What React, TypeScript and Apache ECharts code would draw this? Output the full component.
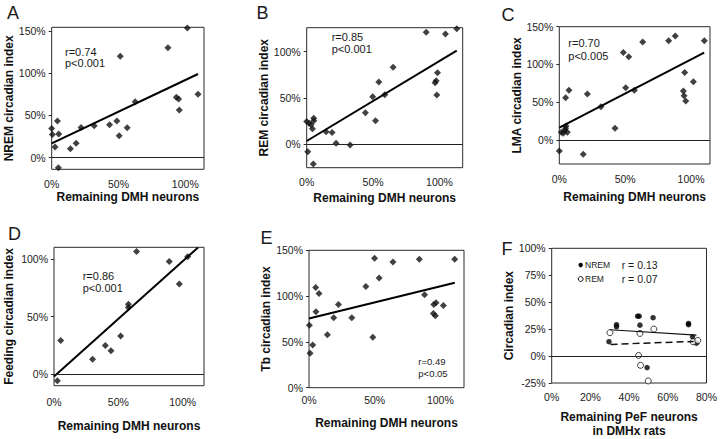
import React, { useEffect, useRef } from "react";
import * as echarts from "echarts";

// ---------- Data ----------
// Panel A: NREM circadian index vs remaining DMH neurons (%)
const nremX = [0, 0.5, 2.5, 4.3, 5.3, 5, 14, 18.3, 22, 31.8, 43.3, 48.8, 50.5, 51.3, 56.5, 62.5, 87, 93.3, 95, 95.5, 101.5, 109.5];
const nremY = [34.7, 27.6, 12.6, 43.4, 28, -11.8, 10.7, 17, 35.9, 37.9, 39.1, 43.4, 26, 120, 35.5, 66.3, 130.3, 71.5, 69.5, 56.5, 153.6, 75];
const nremFit = [[0, 17], [109.5, 99.1]];

// Panel B: REM circadian index
const remX = [0, 1.8, 3.3, 4.3, 5.3, 5.3, 0.8, 5, 14.6, 19.1, 22.1, 32.7, 44.2, 49.7, 51.8, 54.3, 58.8, 65.1, 90, 96.7, 97.5, 98, 98.5, 104.5, 113];
const remY = [24.5, 22.7, 21.2, 16.9, 28.1, 25.5, -7.9, -21.2, 13.7, 12.9, 1.1, -0.7, 34.2, 51.4, 25.5, 67.3, 53.6, 83.1, 120.9, 66.5, 68.7, 53.2, 77.3, 119, 124.8];
const remFit = [[0, 3.6], [113, 101]];

// Panel C: LMA circadian index
const lmaX = [0, 1.5, 3.0, 4.1, 4.8, 5.1, 6.1, 4.8, 7.3, 18.2, 21.3, 31.6, 42.3, 48.6, 50.4, 52.7, 57, 63.3, 83, 88, 95.2, 94.2, 94.7, 96, 101.8, 110.1];
const lmaY = [-14.6, 10.1, 8.8, 12.4, 15.4, 18.5, 10.1, 56, 65.7, -19, 60.9, 44.1, 15.5, 116, 69.3, 110.3, 65.7, 129.7, 131.5, 137.6, 89.5, 64.8, 58.7, 51.6, 77.2, 131.5];
const lmaFit = [[0, 16.3], [110, 115.6]];

// Panel D: Feeding circadian index
const feedX = [2.6, 5.2, 30, 39.9, 44.3, 51.8, 57.8, 57.8, 64.2, 89.6, 97.4, 103.9];
const feedY = [-5.5, 29.2, 13, 24.9, 20.5, 33.2, 57.8, 60.7, 106.4, 97.7, 78.3, 102];
const feedFit = [[0, -2], [112, 110]];

// Panel E: Tb circadian index
const tbX = [0.3, 0.8, 2.8, 5.1, 5.3, 7.6, 14, 18.8, 22.4, 32.6, 43.3, 48.6, 49.9, 53.4, 63.9, 84, 88, 94.7, 95, 96.2, 96.7, 102.3, 110.9];
const tbY = [68.2, 37.6, 46.7, 109.5, 82.8, 102.9, 57.7, 76.3, 90.9, 76.3, 110.6, 55.1, 141.2, 119.7, 137.2, 140.1, 101.5, 81.1, 90.9, 78.5, 92.7, 89.8, 140.1];
const tbFit = [[0, 75.5], [111, 114.6]];

// Panel F: circadian index vs remaining PeF neurons in DMHx rats
const pefNremX = [29.6, 33.5, 33.5, 44.4, 45.2, 45.6, 52.4, 49.3, 70.7, 70.7, 72.8, 74.8];
const pefNremY = [13.3, 29.1, 27.2, 37.0, 37.0, 28.7, 35.6, -10.7, 30.3, 29.1, 18.0, 12.0];
const pefRemX = [30.1, 45.6, 52.8, 44.9, 45.9, 49.9, 73.1, 75.5];
const pefRemY = [21.7, 21.0, 25.0, 0.6, -8.6, -23.1, 13.3, 14.5];
const pefNremFit = [[30.1, 24.4], [74.8, 19.4]];
const pefRemFit = [[30.4, 10.8], [73.4, 13.6]];

// Tick labels
const dmhTicks = [0, 50, 100];
const ticksA = [0, 50, 100, 150];
const ticksB = [0, 50, 100];
const ticksC = [0, 50, 100, 150];
const ticksD = [0, 50, 100];
const ticksE = [0, 50, 100, 150];
const pefXTicks = [0, 20, 40, 60, 80];
const pefYTicks = [-25, 0, 25, 50, 75, 100];

const FONT = "Liberation Sans, Arial, Helvetica, sans-serif";

const zip = (xs: number[], ys: number[]) => xs.map((x, i) => [x, ys[i]]);

type Panel = {
  grid: { left: number; top: number; width: number; height: number };
  xMin: number; xMax: number; yMin: number; yMax: number;
  xTicks: number[]; yTicks: number[];
  yName: string; yGap: number;
  xName: string; xGap: number; xLabelMargin: number;
};

export default function App() {
  const ref = useRef<HTMLDivElement>(null);

  useEffect(() => {
    if (!ref.current) return;
    const chart = echarts.init(ref.current, undefined, { renderer: "svg" });

    const panels: Panel[] = [
      { grid: { left: 51.7, top: 27.3, width: 152.3, height: 142 }, xMin: 0, xMax: 114, yMin: -13.7, yMax: 154.4, xTicks: dmhTicks, yTicks: ticksA, yName: "NREM circadian index", yGap: 37, xName: "Remaining DMH neurons", xGap: 21, xLabelMargin: 9 },
      { grid: { left: 306.7, top: 27.7, width: 156, height: 140 }, xMin: 0, xMax: 117.5, yMin: -25.2, yMax: 125.8, xTicks: dmhTicks, yTicks: ticksB, yName: "REM circadian index", yGap: 23.5, xName: "Remaining DMH neurons", xGap: 23, xLabelMargin: 9 },
      { grid: { left: 559.3, top: 26.7, width: 150.7, height: 137.3 }, xMin: 0, xMax: 114.4, yMin: -31.8, yMax: 150, xTicks: dmhTicks, yTicks: ticksC, yName: "LMA circadian index", yGap: 35, xName: "Remaining DMH neurons", xGap: 26, xLabelMargin: 9 },
      { grid: { left: 54, top: 247.3, width: 150, height: 138.4 }, xMin: 0, xMax: 116.6, yMin: -9.9, yMax: 110.1, xTicks: dmhTicks, yTicks: ticksD, yName: "Feeding circadian index", yGap: 39.5, xName: "Remaining DMH neurons", xGap: 33, xLabelMargin: 11 },
      { grid: { left: 309, top: 250.3, width: 155, height: 137.4 }, xMin: 0, xMax: 118, yMin: 0, yMax: 150, xTicks: dmhTicks, yTicks: ticksE, yName: "Tb circadian index", yGap: 31.5, xName: "Remaining DMH neurons", xGap: 28, xLabelMargin: 7 },
      { grid: { left: 551.7, top: 248.3, width: 155, height: 135 }, xMin: 0, xMax: 80, yMin: -25, yMax: 100, xTicks: pefXTicks, yTicks: pefYTicks, yName: "Circadian index", yGap: 32, xName: "Remaining PeF neurons\nin DMHx rats", xGap: 27, xLabelMargin: 8 },
    ];

    const grids = panels.map((p) => ({
      ...p.grid,
      show: true,
      borderColor: "#2a2a2a",
      borderWidth: 1,
      backgroundColor: "transparent",
      containLabel: false,
    }));

    const xAxes = panels.map((p, i) => ({
      gridIndex: i,
      type: "value",
      min: p.xMin,
      max: p.xMax,
      axisLine: { show: false },
      splitLine: { show: false },
      axisTick: { show: false },
      axisLabel: {
        customValues: p.xTicks,
        formatter: (v: number) => `${v}%`,
        margin: p.xLabelMargin,
        fontSize: 10.5,
        color: "#222",
        fontFamily: FONT,
      },
      name: p.xName,
      nameLocation: "middle",
      nameGap: p.xGap,
      nameTextStyle: { fontWeight: "bold", fontSize: 12, color: "#111", fontFamily: FONT, lineHeight: 14 },
    }));

    const yAxes = panels.map((p, i) => ({
      gridIndex: i,
      type: "value",
      min: p.yMin,
      max: p.yMax,
      axisLine: { show: false },
      splitLine: { show: false },
      axisTick: { show: true, inside: false, length: 3, customValues: p.yTicks, lineStyle: { color: "#2a2a2a" } },
      axisLabel: {
        customValues: p.yTicks,
        formatter: (v: number) => `${v}%`,
        margin: 6,
        fontSize: 10.5,
        color: "#222",
        fontFamily: FONT,
      },
      name: p.yName,
      nameLocation: "middle",
      nameGap: p.yGap,
      nameRotate: 90,
      nameTextStyle: { fontWeight: "bold", fontSize: 12, color: "#111", fontFamily: FONT },
    }));

    const zeroLine = {
      silent: true,
      symbol: ["none", "none"],
      label: { show: false },
      lineStyle: { color: "#222", width: 1, type: "solid" },
      data: [{ yAxis: 0 }],
    };

    const diamondSeries = (i: number, xs: number[], ys: number[], fit: number[][], withZero: boolean) => [
      {
        type: "scatter",
        xAxisIndex: i,
        yAxisIndex: i,
        data: zip(xs, ys),
        symbol: "diamond",
        symbolSize: 7,
        clip: false,
        itemStyle: { color: "#111" },
        ...(withZero ? { markLine: zeroLine } : {}),
      },
      {
        type: "line",
        xAxisIndex: i,
        yAxisIndex: i,
        data: fit,
        showSymbol: false,
        symbol: "none",
        clip: true,
        lineStyle: { color: "#000", width: 2 },
      },
    ];

    const series: any[] = [
      ...diamondSeries(0, nremX, nremY, nremFit, true),
      ...diamondSeries(1, remX, remY, remFit, true),
      ...diamondSeries(2, lmaX, lmaY, lmaFit, true),
      ...diamondSeries(3, feedX, feedY, feedFit, true),
      ...diamondSeries(4, tbX, tbY, tbFit, false),
      {
        type: "scatter",
        xAxisIndex: 5,
        yAxisIndex: 5,
        data: zip(pefNremX, pefNremY),
        symbol: "circle",
        symbolSize: 5.5,
        clip: false,
        itemStyle: { color: "#000" },
        markLine: zeroLine,
      },
      {
        type: "scatter",
        xAxisIndex: 5,
        yAxisIndex: 5,
        data: zip(pefRemX, pefRemY),
        symbol: "circle",
        symbolSize: 6,
        clip: false,
        itemStyle: { color: "#fff", borderColor: "#111", borderWidth: 1 },
      },
      {
        type: "line",
        xAxisIndex: 5,
        yAxisIndex: 5,
        data: pefNremFit,
        showSymbol: false,
        symbol: "none",
        lineStyle: { color: "#111", width: 1.2 },
      },
      {
        type: "line",
        xAxisIndex: 5,
        yAxisIndex: 5,
        data: pefRemFit,
        showSymbol: false,
        symbol: "none",
        lineStyle: { color: "#111", width: 1.5, type: [7, 4] },
      },
    ];

    const txt = (x: number, y: number, text: string, fontSize: number, extra: any = {}) => ({
      type: "text",
      x,
      y,
      style: {
        text,
        fontSize,
        fontFamily: FONT,
        fill: "#1a1a1a",
        textVerticalAlign: "middle",
        verticalAlign: "middle",
        ...extra,
      },
      silent: true,
    });

    const graphic: any[] = [
      // panel letters
      txt(7, 13, "A", 18),
      txt(256.5, 13, "B", 18),
      txt(501.5, 15, "C", 18),
      txt(8, 234, "D", 18),
      txt(260.5, 237.5, "E", 18),
      txt(501.5, 249, "F", 18),
      // statistics
      txt(65, 51.7, "r=0.74", 11),
      txt(65, 63.3, "p<0.001", 11),
      txt(331.7, 36.7, "r=0.85", 11),
      txt(331.7, 49.3, "p<0.001", 11),
      txt(568.3, 43.3, "r=0.70", 11),
      txt(568.3, 56, "p<0.005", 11),
      txt(82.7, 276, "r=0.86", 11),
      txt(82.7, 287.7, "p<0.001", 11),
      txt(418.3, 361.7, "r=0.49", 9.5),
      txt(418.3, 373.3, "p<0.05", 9.5),
      // legend for F
      { type: "circle", shape: { cx: 580.7, cy: 265, r: 2.2 }, style: { fill: "#000" }, silent: true },
      { type: "circle", shape: { cx: 580.7, cy: 279, r: 2.4 }, style: { fill: "#fff", stroke: "#111", lineWidth: 1 }, silent: true },
      txt(585, 265, "NREM", 8.5),
      txt(585, 279, "REM", 8.5),
      txt(621.7, 264.5, "r = 0.13", 10.5),
      txt(621.7, 278.5, "r = 0.07", 10.5),
    ];

    chart.setOption({
      animation: false,
      backgroundColor: "#fff",
      grid: grids,
      xAxis: xAxes,
      yAxis: yAxes,
      series,
      graphic,
    } as any);

    return () => chart.dispose();
  }, []);

  return (
    <div
      ref={ref}
      style={{ position: "fixed", left: 0, top: 0, width: 720, height: 439, background: "#fff" }}
    />
  );
}
